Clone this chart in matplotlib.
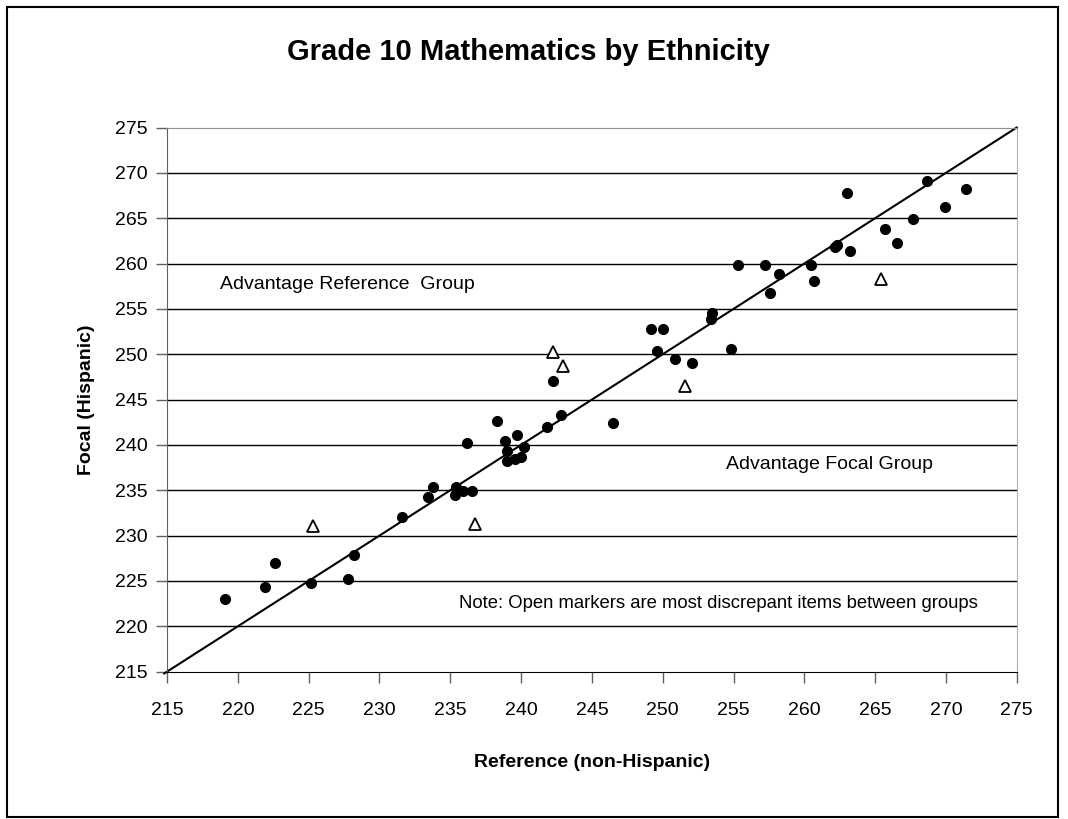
import numpy as np
import matplotlib.pyplot as plt
from matplotlib.patches import Rectangle

# common items (filled circles)
ref_x = [219.1, 221.9, 222.6, 225.2, 227.8, 228.2, 231.6, 233.45, 233.75, 235.3,
         235.4, 235.9, 236.55, 236.15, 238.3, 238.85, 239.7, 239.0, 240.2, 239.0,
         239.6, 240.0, 241.8, 242.8, 242.25, 246.5, 249.15, 250.0, 249.6, 250.85,
         252.1, 254.8, 253.4, 253.5, 255.35, 257.25, 257.55, 258.2, 260.45, 260.7,
         262.15, 262.3, 263.25, 263.0, 265.7, 266.55, 267.65, 268.65, 269.9, 271.45]
foc_y = [223.0, 224.3, 227.0, 224.75, 225.2, 227.9, 232.05, 234.25, 235.35, 234.45,
         235.4, 234.9, 234.9, 240.2, 242.65, 240.45, 241.05, 239.35, 239.75, 238.25,
         238.45, 238.65, 241.95, 243.25, 247.0, 242.4, 252.8, 252.8, 250.4, 249.5,
         249.0, 250.6, 253.9, 254.5, 259.85, 259.85, 256.75, 258.9, 259.85, 258.1,
         261.85, 262.05, 261.4, 267.8, 263.8, 262.25, 264.9, 269.1, 266.2, 268.2]

# most discrepant items (open triangles)
disc_x = [225.3, 236.75, 242.25, 242.95, 251.6, 265.4]
disc_y = [231.05, 231.3, 250.3, 248.75, 246.55, 258.25]

ticks = np.arange(215, 276, 5)

plt.rcParams['font.family'] = ['Liberation Sans', 'DejaVu Sans']

fig = plt.figure(figsize=(10.68, 8.19), dpi=100)
ax = fig.add_axes([0.1564, 0.1799, 0.7956, 0.6644])

# border round the whole chart
fig.patches.append(Rectangle((0.007, 0.002), 0.984, 0.989, transform=fig.transFigure,
                             fill=False, edgecolor='black', linewidth=1.5))

ax.set_xlim(215, 275)
ax.set_ylim(215, 275)
ax.set_xticks(ticks)
ax.set_yticks(ticks)
for t in ticks[1:-1]:
    ax.axhline(t, color='black', linewidth=1.0, zorder=1)

# identity line
ax.plot([214.8, 275], [214.8, 275], color='black', linewidth=1.5, zorder=2, clip_on=False)

ax.plot(ref_x, foc_y, 'o', color='black', markersize=7, zorder=3)
ax.plot(disc_x, disc_y, '^', markerfacecolor='white', markeredgecolor='black',
        markeredgewidth=1.3, markersize=9, zorder=3)

ax.spines['bottom'].set_color('black')
ax.spines['left'].set_color('#606060')
ax.spines['top'].set_color('#909090')
ax.spines['right'].set_color('#b0b0b0')
ax.tick_params(direction='out', length=8, width=1, color='#606060',
               labelsize=14, pad=6)
ax.tick_params(axis='x', pad=14)

ax.set_xlabel('Reference (non-Hispanic)', fontsize=14, fontweight='bold', labelpad=25)
ax.set_ylabel('Focal (Hispanic)', fontsize=14, fontweight='bold', labelpad=14)
fig.text(0.495, 0.936, 'Grade 10 Mathematics by Ethnicity', fontsize=21,
         fontweight='bold', ha='center', va='center')

ax.text(218.75, 257.7, 'Advantage Reference  Group', fontsize=14, va='center')
ax.text(254.5, 237.8, 'Advantage Focal Group', fontsize=14, va='center')
ax.text(235.6, 222.5, 'Note: Open markers are most discrepant items between groups',
        fontsize=13.3, va='center')

fig.savefig('out.png', dpi=100)
